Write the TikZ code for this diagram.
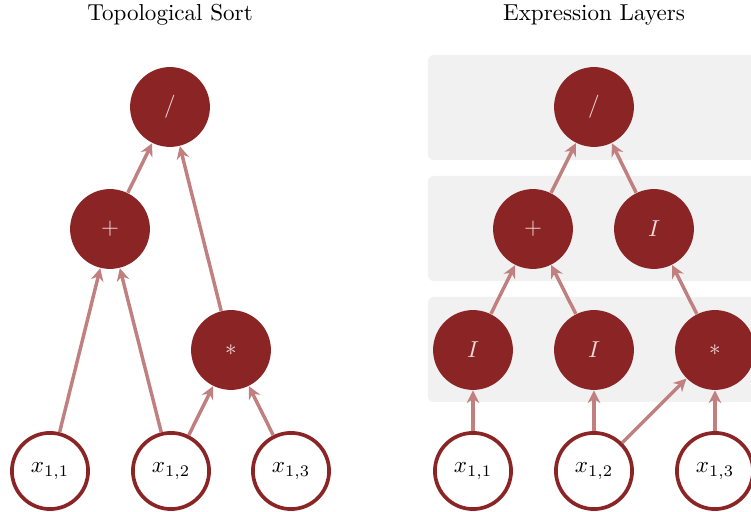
\documentclass[tikz,border=0pt]{standalone}
\usetikzlibrary{arrows.meta}
\definecolor{nodered}{RGB}{139,37,37}
\definecolor{edgecol}{RGB}{192,128,128}
\definecolor{bandgray}{RGB}{241,241,241}
\definecolor{optext}{RGB}{242,218,218}
\begin{document}
\begin{tikzpicture}[x=0.4333pt,y=-0.4333pt,
  op/.style={circle,fill=nodered,minimum size=34.6pt,inner sep=0pt,text=optext},
  inp/.style={circle,draw=nodered,line width=1.6pt,fill=white,minimum size=33pt,inner sep=0pt},
  arr/.style={draw=edgecol,line width=1.5pt,-{Stealth[length=5.5pt,width=5.5pt,inset=1.8pt]}},
  band/.style={fill=bandgray,rounded corners=2.5pt},
  title/.style={font=\normalsize}]
\useasboundingbox (0,0) rectangle (751,512);
% bands
\path[band] (428,55) rectangle (770,160);
\path[band] (428,176) rectangle (770,281);
\path[band] (428,297) rectangle (770,402);
% titles
\node[title] (t1) at (170,15) {Topological Sort};
\node[title] (t2) at (594,15) {Expression Layers};
% left graph
\node[op] (ldiv) at (170,107) {$/$};
\node[op] (lplus) at (110,229) {$+$};
\node[op] (lmul) at (231,350) {$*$};
\node[inp] (lx1) at (50,471) {$x_{1,1}$};
\node[inp] (lx2) at (171,471) {$x_{1,2}$};
\node[inp] (lx3) at (291,471) {$x_{1,3}$};
\draw[arr] (lx1) -- (lplus);
\draw[arr] (lx2) -- (lplus);
\draw[arr] (lx2) -- (lmul);
\draw[arr] (lx3) -- (lmul);
\draw[arr] (lplus) -- (ldiv);
\draw[arr] (lmul) -- (ldiv);
% right graph
\node[op] (rdiv) at (594,107) {$/$};
\node[op] (rplus) at (533,229) {$+$};
\node[op] (rid3) at (654,229) {$I$};
\node[op] (rid1) at (473,350) {$I$};
\node[op] (rid2) at (594,350) {$I$};
\node[op] (rmul) at (715,350) {$*$};
\node[inp] (rx1) at (473,471) {$x_{1,1}$};
\node[inp] (rx2) at (594,471) {$x_{1,2}$};
\node[inp] (rx3) at (715,471) {$x_{1,3}$};
\draw[arr] (rx1) -- (rid1);
\draw[arr] (rx2) -- (rid2);
\draw[arr] (rx2) -- (rmul);
\draw[arr] (rx3) -- (rmul);
\draw[arr] (rid1) -- (rplus);
\draw[arr] (rid2) -- (rplus);
\draw[arr] (rmul) -- (rid3);
\draw[arr] (rplus) -- (rdiv);
\draw[arr] (rid3) -- (rdiv);
\end{tikzpicture}
\end{document}
